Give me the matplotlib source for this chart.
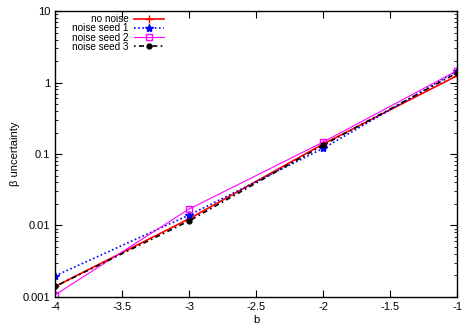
import matplotlib
matplotlib.use("Agg")
import matplotlib.pyplot as plt
import numpy as np

b = [-4, -3, -2, -1]
no_noise = [0.0014, 0.0124, 0.138, 1.25]
seed1 = [0.00197, 0.014, 0.12, 1.45]
seed2 = [0.00107, 0.017, 0.147, 1.47]
seed3 = [0.0014, 0.0116, 0.133, 1.37]

plt.rcParams['font.family'] = ['Liberation Sans', 'DejaVu Sans']
fig = plt.figure(figsize=(4.67, 3.27), dpi=100)
ax = fig.add_axes([0.118, 0.092, 0.861, 0.874])

ax.plot(b, no_noise, color='#ff0000', lw=1.2, marker='+', ms=6, mew=1, label='no noise')
ax.plot(b, seed1, color='#0000ff', lw=1.2, ls=(0, (1, 1.5)), marker='*', ms=6, label='noise seed 1')
ax.plot(b, seed2, color='#ff00ff', lw=0.8, marker='s', ms=5, mfc='none', mew=1, label='noise seed 2')
ax.plot(b, seed3, color='black', lw=1.2, ls=(0, (1, 2, 3, 2)), marker='o', ms=3.5, label='noise seed 3')

ax.set_yscale('log')
ax.set_xlim(-4, -1)
ax.set_ylim(0.001, 10)
ax.set_xticks(np.arange(-4, -0.9, 0.5))
ax.set_xticklabels(['-4', '-3.5', '-3', '-2.5', '-2', '-1.5', '-1'])
ax.set_yticks([0.001, 0.01, 0.1, 1, 10])
ax.set_yticklabels(['0.001', '0.01', '0.1', '1', '10'])
ax.tick_params(which='both', direction='in', top=True, right=True, labelsize=8)
ax.tick_params(which='major', length=5)
ax.tick_params(which='minor', length=2.5)
ax.set_xlabel('b', fontsize=8, labelpad=2)
ax.set_ylabel('β uncertainty', fontsize=8, labelpad=2)
for s in ax.spines.values():
    s.set_linewidth(1)

ax.legend(loc='upper left', bbox_to_anchor=(17 / 402, 1 - 3 / 286), frameon=False, fontsize=7.2,
          markerfirst=False, handlelength=3.0, handletextpad=0.5, labelspacing=-0.08,
          borderpad=0, borderaxespad=0)

fig.savefig('out.png', dpi=100)
